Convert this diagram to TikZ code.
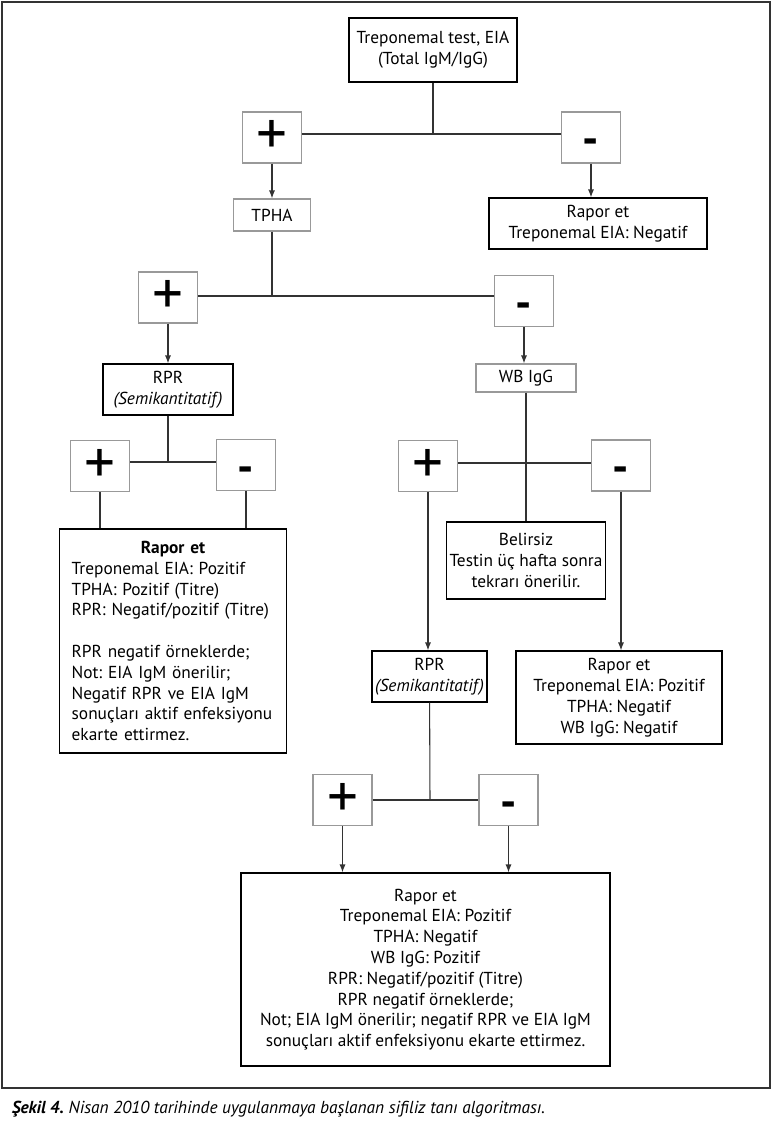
\documentclass[tikz,border=0pt]{standalone}
\usepackage{fontspec}
\setmainfont{PT Sans}
\usetikzlibrary{arrows.meta, positioning}
\definecolor{signgray}{gray}{0.6}
\definecolor{wiregray}{gray}{0.2}
\frenchspacing

\begin{document}
\begin{tikzpicture}[x=0.75pt, y=-0.75pt,
    font=\fontsize{13}{15.6}\selectfont,
    box/.style={draw=black, line width=0.8pt, align=center, inner sep=2pt},
    lightbox/.style={box, draw=signgray},
    sign/.style={draw=signgray, line width=0.8pt, minimum width=44.25pt,
      minimum height=38.25pt, inner sep=0pt},
    plus/.style={sign, font=\fontsize{46}{46}\selectfont},
    minus/.style={sign, text height=26pt, text depth=0pt,
      font=\fontsize{34}{34}\selectfont\bfseries},
    wire/.style={draw=wiregray, line width=0.8pt},
    arr/.style={wire, -{Latex[length=6pt, width=4.5pt]}}]

  \useasboundingbox (0,0) rectangle (772,1124);
  \draw[wiregray, line width=0.9pt] (2,2) rectangle (770,1088);

  % first test
  \node[box, minimum width=126pt, minimum height=48pt] (eia) at (433,50)
    {Treponemal test, EIA\\(Total IgM/IgG)};
  \coordinate (j1) at (433,134);
  \node[plus] (p1) at (272,137.5) {+};
  \node[minus] (m1) at (591,137.5) {-};
  \node[lightbox, minimum width=57.75pt, minimum height=24pt] (tpha) at (272,215) {TPHA};
  \node[box, minimum width=163.5pt, minimum height=38.25pt] (rap1) at (598,223.5)
    {Rapor et\\Treponemal EIA: Negatif};

  % TPHA
  \coordinate (j2) at (272,296);
  \node[plus] (p2) at (168,297.5) {+};
  \node[minus] (m2) at (524,301) {-};
  \node[box, minimum width=97.5pt, minimum height=38.25pt] (rpr1) at (168,389.5)
    {RPR\\\textit{(Semikantitatif)}};
  \node[lightbox, minimum width=75pt, minimum height=21pt] (wb) at (526,378) {WB IgG};

  % RPR left
  \coordinate (j3) at (168,462);
  \node[plus] (p3) at (100,466) {+};
  \node[minus] (m3) at (246,465) {-};
  \node[box, text width=152pt, inner xsep=9pt, align=left, minimum height=168pt] (rap2) at (173,641)
    {\makebox[\linewidth]{\textbf{Rapor et}}\\
     Treponemal EIA: Pozitif\\
     TPHA: Pozitif (Titre)\\
     RPR: Negatif/pozitif (Titre)\\[15.6pt]
     RPR negatif örneklerde;\\
     Not: EIA IgM önerilir;\\
     Negatif RPR ve EIA IgM\\
     sonuçları aktif enfeksiyonu\\
     ekarte ettirmez.};

  % WB IgG
  \coordinate (j4) at (526,463);
  \node[plus] (p4) at (428,466) {+};
  \node[minus] (m4) at (621,465.5) {-};
  \node[box, minimum width=118.5pt, minimum height=57.75pt] (bel) at (526,560.5)
    {Belirsiz\\Testin üç hafta sonra\\tekrarı önerilir.};
  \node[box, minimum width=86.25pt, minimum height=38.25pt] (rpr2) at (429.5,676.5)
    {RPR\\\textit{(Semikantitatif)}};
  \node[box, minimum width=154.5pt, minimum height=69.75pt] (rap3) at (619,697.5)
    {Rapor et\\Treponemal EIA: Pozitif\\TPHA: Negatif\\WB IgG: Negatif};

  % RPR right
  \coordinate (j5) at (430,800);
  \node[plus] (p5) at (342.5,800) {+};
  \node[minus] (m5) at (508.5,800) {-};
  \node[box, minimum width=276.75pt, minimum height=144.75pt] (fin) at (425.5,969.5)
    {Rapor et\\Treponemal EIA: Pozitif\\TPHA: Negatif\\WB IgG: Pozitif\\
     RPR: Negatif/pozitif (Titre)\\RPR negatif örneklerde;\\
     Not; EIA IgM önerilir; negatif RPR ve EIA IgM\\
     sonuçları aktif enfeksiyonu ekarte ettirmez.};

  \node[anchor=west, font=\fontsize{13}{15}\selectfont\itshape] (caption) at (7,1109)
    {\textbf{Şekil 4.} Nisan 2010 tarihinde uygulanmaya başlanan sifiliz tanı algoritması.};

  \draw[wire] (eia) -- (j1);
  \draw[wire] (p1.east |- j1) -- (m1.west |- j1);
  \draw[arr] (p1.south) -- (p1.south |- tpha.north);
  \draw[arr] (m1.south) -- (m1.south |- rap1.north);

  \draw[wire] (tpha) -- (j2);
  \draw[wire] (p2.east |- j2) -- (m2.west |- j2);
  \draw[arr] (p2.south) -- (p2.south |- rpr1.north);
  \draw[arr] (m2.south) -- (m2.south |- wb.north);

  \draw[wire] (rpr1) -- (j3);
  \draw[wire] (p3.east |- j3) -- (m3.west |- j3);
  \draw[wire] (p3.south) -- (p3.south |- rap2.north);
  \draw[wire] (m3.south) -- (m3.south |- rap2.north);

  \draw[wire] (wb.south) -- (wb.south |- bel.north);
  \draw[wire] (p4.east |- j4) -- (m4.west |- j4);
  \draw[arr] (p4.south) -- (p4.south |- rpr2.north);
  \draw[arr] (m4.south) -- (m4.south |- rap3.north);

  \draw[wire] (rpr2) -- (j5);
  \draw[wire] (p5.east |- j5) -- (m5.west |- j5);
  \draw[arr] (p5.south) -- (p5.south |- fin.north);
  \draw[arr] (m5.south) -- (m5.south |- fin.north);
\end{tikzpicture}
\end{document}
